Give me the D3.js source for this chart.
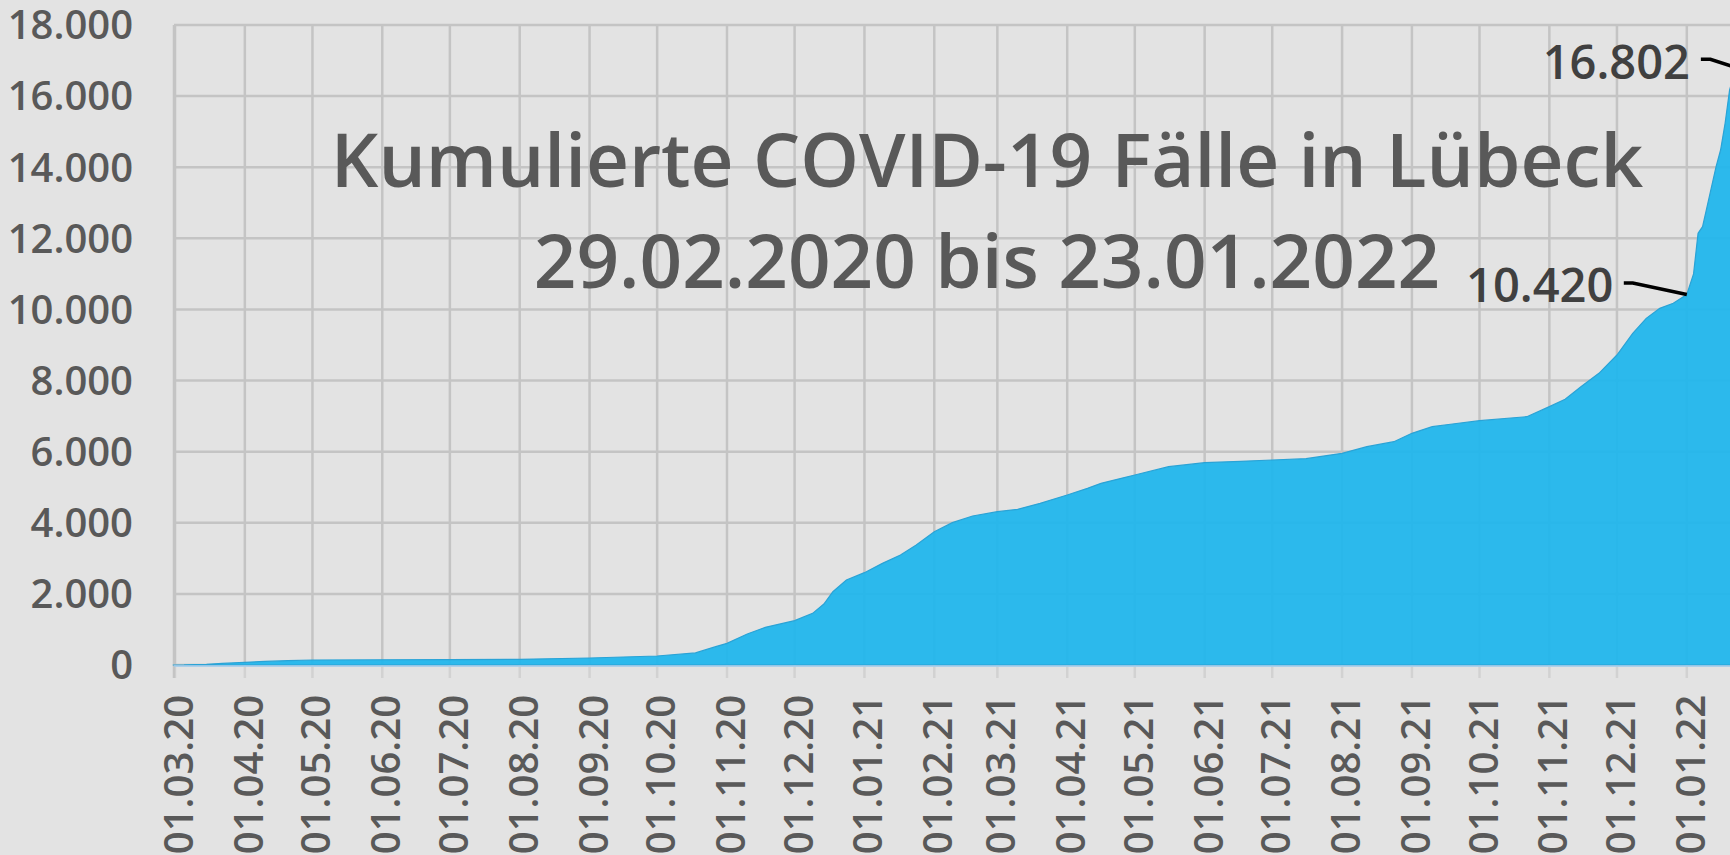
<!DOCTYPE html>
<html>
<head>
<meta charset="utf-8">
<script src="https://cdn.jsdelivr.net/npm/d3@7"></script>
<style>
  body { margin: 0; background: #e3e3e3; }
  svg { display: block; font-family: "Open Sans", sans-serif; }
</style>
</head>
<body>
<div id="chart"></div>
<script>
// cumulative cases
const dates = [
  "29.02.2020", "05.03.2020", "15.03.2020", "22.03.2020", "01.04.2020", "10.04.2020", "20.04.2020",
  "01.05.2020", "01.06.2020", "01.07.2020", "01.08.2020", "01.09.2020", "01.10.2020", "18.10.2020",
  "27.10.2020", "01.11.2020", "10.11.2020", "18.11.2020", "01.12.2020", "09.12.2020", "14.12.2020",
  "18.12.2020", "24.12.2020", "01.01.2021", "09.01.2021", "17.01.2021", "24.01.2021", "01.02.2021",
  "09.02.2021", "18.02.2021", "01.03.2021", "10.03.2021", "20.03.2021", "01.04.2021", "10.04.2021",
  "16.04.2021", "25.04.2021", "01.05.2021", "16.05.2021", "01.06.2021", "17.06.2021", "01.07.2021",
  "16.07.2021", "01.08.2021", "12.08.2021", "24.08.2021", "01.09.2021", "10.09.2021", "19.09.2021",
  "01.10.2021", "22.10.2021", "01.11.2021", "08.11.2021", "15.11.2021", "23.11.2021", "01.12.2021",
  "08.12.2021", "14.12.2021", "20.12.2021", "26.12.2021", "01.01.2022", "04.01.2022", "06.01.2022",
  "08.01.2022", "11.01.2022", "14.01.2022", "16.01.2022", "18.01.2022", "20.01.2022", "23.01.2022"
];
const cases = [
  0, 1, 20, 45, 75, 100, 122,
  140, 148, 152, 160, 197, 253, 340,
  516, 609, 872, 1059, 1247, 1453, 1716,
  2062, 2391, 2597, 2859, 3094, 3375, 3750,
  4003, 4191, 4313, 4378, 4547, 4781, 4969,
  5109, 5250, 5344, 5578, 5691, 5728, 5766,
  5803, 5953, 6141, 6281, 6516, 6703, 6778,
  6872, 6984, 7266, 7472, 7828, 8203, 8719,
  9328, 9750, 10031, 10172, 10420, 11000, 12141,
  12328, 13172, 14016, 14484, 15234, 16172, 16802
];
const yTicks = [0, 2000, 4000, 6000, 8000, 10000, 12000, 14000, 16000, 18000];
const titleLines = ["Kumulierte COVID-19 Fälle in Lübeck", "29.02.2020 bis 23.01.2022"];
// labelled points
const labelDates = ["01.01.2022", "23.01.2022"];
const labelValues = [10420, 16802];

const width = 1730, height = 855;
const parse = d3.utcParse("%d.%m.%Y");
const de = d3.formatLocale({decimal: ",", thousands: ".", grouping: [3], currency: ["", " €"]});
const fmt = de.format(",");

const data = dates.map((d, i) => ({date: parse(d), value: cases[i]}));

const svg = d3.select("#chart").append("svg")
    .attr("width", width)
    .attr("height", height);

svg.append("rect").attr("width", width).attr("height", height).attr("fill", "#e3e3e3");

const x = d3.scaleUtc()
    .domain([parse("01.03.2020"), parse("01.01.2022")])
    .range([175, 1686.8]);
const y = d3.scaleLinear().domain([0, 18000]).range([665, 25]);

const monthTicks = d3.utcMonth.range(parse("01.03.2020"), parse("02.01.2022"));

// grid
svg.append("g").selectAll("line.h")
    .data(yTicks)
    .join("line")
    .attr("x1", 174).attr("x2", width)
    .attr("y1", d => y(d)).attr("y2", d => y(d))
    .attr("stroke", "#c4c4c4").attr("stroke-width", 2.5);

svg.append("g").selectAll("line")
    .data(monthTicks)
    .join("line")
    .attr("x1", d => x(d)).attr("x2", d => x(d))
    .attr("y1", y(18000)).attr("y2", y(0))
    .attr("stroke", "#c4c4c4").attr("stroke-width", 2.5);

// tick marks under the axis
svg.append("g").selectAll("line")
    .data(monthTicks)
    .join("line")
    .attr("x1", d => x(d)).attr("x2", d => x(d))
    .attr("y1", y(0)).attr("y2", y(0) + 13)
    .attr("stroke", "#d2d2d2").attr("stroke-width", 2.5);

svg.append("line")
    .attr("x1", 174).attr("x2", 174)
    .attr("y1", y(18000)).attr("y2", y(0) + 13)
    .attr("stroke", "#c4c4c4").attr("stroke-width", 2.5);

// area
const area = d3.area()
    .x(d => x(d.date))
    .y0(y(0))
    .y1(d => y(d.value));

svg.append("path")
    .datum(data)
    .attr("d", area)
    .attr("fill", "#1eb6ed")
    .attr("fill-opacity", 0.93)
    .attr("stroke", "#2aa3d6")
    .attr("stroke-width", 1.2);

// x axis line
svg.append("line")
    .attr("x1", 174).attr("x2", width)
    .attr("y1", y(0) + 1).attr("y2", y(0) + 1)
    .attr("stroke", "#9fcdee").attr("stroke-width", 1.5);

// y labels
svg.append("g").selectAll("text")
    .data(yTicks)
    .join("text")
    .attr("x", 133)
    .attr("y", d => y(d) + 14.3)
    .attr("text-anchor", "end")
    .attr("font-size", 40)
    .attr("font-weight", 600)
    .attr("fill", "#595959")
    .text(d => fmt(d));

// x labels
svg.append("g").selectAll("text")
    .data(monthTicks)
    .join("text")
    .attr("transform", d => `translate(${x(d) + 18},695) rotate(-90)`)
    .attr("text-anchor", "end")
    .attr("font-size", 40)
    .attr("font-weight", 600)
    .attr("fill", "#595959")
    .text(d => d3.utcFormat("%d.%m.%y")(d));

// title
svg.append("g").selectAll("text")
    .data(titleLines)
    .join("text")
    .attr("x", 987)
    .attr("y", (d, i) => i === 0 ? 187 : 288)
    .attr("text-anchor", "middle")
    .attr("font-size", 74.6)
    .attr("font-weight", 600)
    .attr("fill", "#595959")
    .text(d => d);

// data labels with leader lines
const offsets = [
  {tx: -73.5, ty: 7.2, lx: -63, kx: -54, ly: -11.5},
  {tx: -46.4, ty: 11.7, lx: -35.5, kx: -26, ly: -8.3}
];
labelDates.forEach((d, i) => {
  const px = x(parse(d)), py = y(labelValues[i]);
  const o = offsets[i];
  svg.append("path")
      .attr("d", `M${px + o.lx},${py + o.ly}H${px + o.kx}L${px},${py}`)
      .attr("fill", "none")
      .attr("stroke", "#000")
      .attr("stroke-width", 3.5);
  svg.append("text")
      .attr("x", px + o.tx)
      .attr("y", py + o.ty)
      .attr("text-anchor", "end")
      .attr("font-size", 47)
      .attr("font-weight", 600)
      .attr("fill", "#404040")
      .text(fmt(labelValues[i]));
});
</script>
</body>
</html>
